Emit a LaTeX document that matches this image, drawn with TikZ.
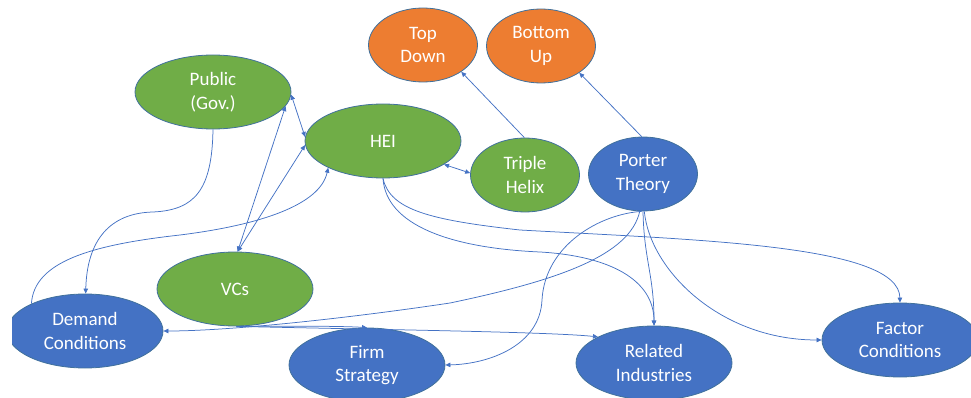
\documentclass[tikz,border=0pt]{standalone}
\usepackage{fontspec}
\setmainfont{Carlito}
\usetikzlibrary{shapes.geometric,arrows.meta}
\definecolor{accgreen}{HTML}{70AD47}
\definecolor{accorange}{HTML}{ED7D31}
\definecolor{accblue}{HTML}{4472C4}
\definecolor{rimblue}{HTML}{41719C}
\begin{document}
\begin{tikzpicture}[x=1pt,y=-1pt,
  bubble/.style={ellipse, draw=rimblue, line width=0.8pt, text=white, inner sep=0pt,
    align=center, font=\fontsize{19}{23.5}\selectfont},
  wide/.style={bubble, minimum width=156pt, minimum height=74pt},
  narrow/.style={bubble, minimum width=109pt, minimum height=74pt},
  tip/.style={Triangle[length=5pt,width=4.5pt]},
  link/.style={draw=accblue, line width=0.75pt, -{Triangle[length=5pt,width=4.5pt]}},
  both/.style={draw=accblue, line width=0.75pt, {Triangle[length=5pt,width=4.5pt]}-{Triangle[length=5pt,width=4.5pt]}}
]
\useasboundingbox (0,0) rectangle (971,398);
\begin{scope}
\clip (12,0) rectangle (971,398);

% concept bubbles
\node[narrow, fill=accorange] (td) at (423,45) {Top\\Down};
\node[narrow, fill=accorange] (bu) at (541,46) {Bottom\\Up};
\node[wide, fill=accgreen] (pub) at (213,92) {Public\\(Gov.)};
\node[wide, fill=accgreen] (hei) at (383,141) {HEI};
\node[narrow, fill=accgreen] (th) at (525,175) {Triple\\Helix};
\node[narrow, fill=accblue] (porter) at (643,174) {Porter\\Theory};
\node[wide, fill=accgreen] (vcs) at (235,289) {VCs};
\node[wide, fill=accblue] (dc) at (85,331) {Demand\\Conditions};
\node[wide, fill=accblue] (fs) at (367,365) {Firm\\Strategy};
\node[wide, fill=accblue] (ri) at (654,363) {Related\\Industries};
\node[wide, fill=accblue] (fc) at (900,340) {Factor\\Conditions};

% straight links
\draw[link] (th.91) -- (td.-35);
\draw[link] (porter.92) -- (bu.-35);
\draw[both] (hei.-21) -- (th.178);
\draw[both] (pub.-2) -- (hei.177);
\draw[both] (vcs.86) -- (pub.-11);
\draw[both] (vcs.86) -- (hei.183);

% curved links
\draw[link] (pub.south) .. controls (212,190) and (195,210) .. (153,212)
  .. controls (110,213) and (87,240) .. (dc.89);
\draw[link] (dc.153) .. controls (34,262) and (90,245) .. (180,235)
  .. controls (260,225) and (320,205) .. (hei.206);
\draw[link] (hei.south) .. controls (386,225) and (450,248) .. (540,252)
  .. controls (610,256) and (654,280) .. (ri.north);
\draw[link] (hei.south) .. controls (390,210) and (430,220) .. (520,230)
  .. controls (700,240) and (899,245) .. (fc.north);
\draw[link] (porter.south) .. controls (644,260) and (654,275) .. (ri.north);
\draw[link] (porter.-88) .. controls (650,270) and (720,340) .. (fc.west);
\draw[link] (porter.-92) .. controls (600,214) and (545,245) .. (542,300)
  .. controls (540,345) and (490,364) .. (fs.east);
\draw[link] (porter.-95) .. controls (630,255) and (560,280) .. (450,303)
  .. controls (350,318) and (230,331) .. (dc.east);
\draw[link] (vcs.-88) .. controls (290,326) and (340,326) .. (fs.north);
\draw[link] (vcs.-88) .. controls (400,330) and (550,332) .. (ri.155);
\end{scope}
\end{tikzpicture}
\end{document}
